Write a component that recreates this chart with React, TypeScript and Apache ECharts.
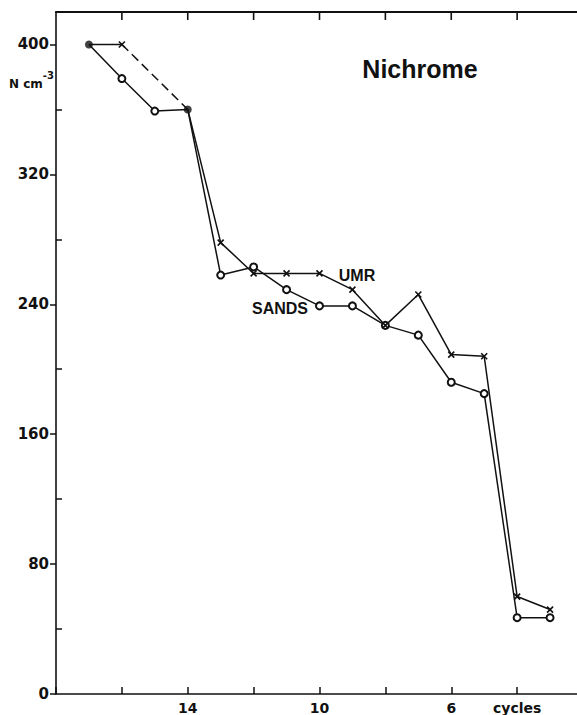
import React, { useEffect, useRef } from "react";
import * as echarts from "echarts";

// Cycles (x, decreasing to the right) and N cm^-3 values (y)
const sandsCycles = [17, 16, 15, 14, 13, 12, 11, 10, 9, 8, 7, 6, 5, 4, 3];
const sandsValues = [400, 379, 359, 360, 258, 263, 249, 239, 239, 227, 221, 192, 185, 47, 47];
const umrCycles = [17, 16, 14, 13, 12, 11, 10, 9, 8, 7, 6, 5, 4, 3];
const umrValues = [400, 400, 360, 278, 259, 259, 259, 249, 227, 246, 209, 208, 60, 52];
// points shared by both series (drawn as filled dots)
const sharedCycles = [17, 14];

const yMin = 0;
const yMax = 420;
const yMajorTicks = [0, 80, 160, 240, 320, 400];
const yMinorTicks = [40, 120, 200, 280, 360];
const xMin = 2;
const xMax = 18;
const xTickStep = 2;
const topTicks = [16, 14, 12, 10, 8, 6, 4];
const xLabels = [14, 10, 6, 4];
const xAxisName = "cycles";

const INK = "#111";
const LABEL_FONT = "DejaVu Sans";

export default function App() {
  const ref = useRef<HTMLDivElement>(null);

  useEffect(() => {
    if (!ref.current) return;
    const chart = echarts.init(ref.current, undefined, { renderer: "svg" });

    const xSymbol = "path://M0 0L10 10M10 0L0 10";

    const sandsData = sandsCycles.map((c, i) => ({
      value: [c, sandsValues[i]],
      symbol: sharedCycles.includes(c) ? "none" : "emptyCircle",
    }));

    const umrData: any[] = [];
    const dashedData: any[] = [];
    umrCycles.forEach((c, i) => {
      if (i > 0 && umrCycles[i - 1] - c > 1) {
        umrData.push({ value: [umrCycles[i - 1] - 1, "-"], symbol: "none" });
        dashedData.push([umrCycles[i - 1], umrValues[i - 1]], [c, umrValues[i]]);
      }
      umrData.push({
        value: [c, umrValues[i]],
        symbol: sharedCycles.includes(c) ? "none" : xSymbol,
      });
    });

    const sharedData = sharedCycles.map((c) => [c, sandsValues[sandsCycles.indexOf(c)]]);

    const xBase = {
      type: "value" as const,
      inverse: true,
      min: xMin,
      max: xMax,
      interval: xTickStep,
      splitLine: { show: false },
    };
    const yBase = {
      type: "value" as const,
      min: yMin,
      max: yMax,
      position: "left" as const,
      offset: 0,
      splitLine: { show: false },
    };

    const texts: any[] = [
      {
        type: "text",
        id: "title",
        x: 420,
        y: 69,
        style: {
          text: "Nichrome",
          fontFamily: "Liberation Sans",
          fontWeight: "bold",
          fontSize: 25,
          fill: INK,
          textAlign: "center",
          textVerticalAlign: "middle",
        },
      },
      {
        type: "text",
        id: "umr",
        x: 357,
        y: 275,
        style: {
          text: "UMR",
          fontFamily: "Liberation Sans",
          fontWeight: "bold",
          fontSize: 16,
          fill: INK,
          textAlign: "center",
          textVerticalAlign: "middle",
        },
      },
      {
        type: "text",
        id: "sands",
        x: 280,
        y: 308,
        style: {
          text: "SANDS",
          fontFamily: "Liberation Sans",
          fontWeight: "bold",
          fontSize: 16,
          fill: INK,
          textAlign: "center",
          textVerticalAlign: "middle",
        },
      },
      {
        type: "text",
        id: "unit",
        x: 9,
        y: 80,
        style: {
          text: "{a|N cm}{b|-3}",
          fill: INK,
          textAlign: "left",
          textVerticalAlign: "middle",
          rich: {
            a: {
              fontFamily: LABEL_FONT,
              fontWeight: "bold",
              fontSize: 12,
              lineHeight: 20,
              verticalAlign: "bottom",
              fill: INK,
            },
            b: {
              fontFamily: LABEL_FONT,
              fontWeight: "bold",
              fontSize: 10,
              lineHeight: 20,
              verticalAlign: "top",
              fill: INK,
            },
          },
        },
      },
    ];

    chart.setOption({
      animation: false,
      backgroundColor: "#fff",
      grid: { left: 56, right: 2, top: 12, bottom: 18, containLabel: false },
      xAxis: [
        {
          ...xBase,
          position: "bottom",
          axisLine: { onZero: false, lineStyle: { color: INK, width: 1.6 } },
          axisTick: { inside: true, length: 7, lineStyle: { color: INK, width: 1.5 } },
          axisLabel: {
            formatter: (v: number) =>
              xLabels.includes(v) ? (v === 4 ? xAxisName : String(v)) : "",
            margin: 7,
            color: INK,
            fontSize: 14,
            fontWeight: "bold",
            fontFamily: LABEL_FONT,
          },
        },
        {
          ...xBase,
          position: "top",
          axisLine: { onZero: false, lineStyle: { color: INK, width: 2 } },
          axisTick: { show: false },
          axisLabel: { show: false },
        },
      ],
      yAxis: [
        {
          ...yBase,
          axisLine: { onZero: false, lineStyle: { color: INK, width: 1.6 } },
          axisTick: { inside: false, length: 6, customValues: yMajorTicks, lineStyle: { color: INK, width: 1.5 } },
          axisLabel: {
            customValues: yMajorTicks,
            margin: 7,
            color: INK,
            fontSize: 15,
            fontWeight: "bold",
            fontFamily: LABEL_FONT,
          },
        },
        {
          ...yBase,
          axisLine: { show: false, onZero: false },
          axisTick: { inside: true, length: 6, customValues: yMinorTicks, lineStyle: { color: INK, width: 1.5 } },
          axisLabel: { show: false },
        },
      ],
      series: [
        {
          name: "SANDS",
          type: "line",
          data: sandsData,
          symbolSize: 7,
          lineStyle: { color: INK, width: 1.5 },
          itemStyle: { color: INK, borderColor: INK, borderWidth: 1.5 },
          z: 3,
        },
        {
          name: "UMR",
          type: "line",
          data: umrData,
          symbolSize: 6,
          connectNulls: false,
          lineStyle: { color: INK, width: 1.5 },
          itemStyle: { color: INK, borderColor: INK, borderWidth: 1.6 },
          z: 3,
        },
        {
          name: "UMR dashed",
          type: "line",
          data: dashedData,
          symbol: "none",
          lineStyle: { color: INK, width: 1.5, type: [9, 5] },
          z: 2,
        },
        {
          name: "shared",
          type: "scatter",
          data: sharedData,
          symbol: "circle",
          symbolSize: 8,
          itemStyle: { color: INK },
          z: 5,
        },
      ],
      graphic: texts,
    });

    // inward ticks along the top frame, positioned through the chart's own scales
    const tickLines = topTicks.map((c, i) => {
      const p = chart.convertToPixel({ gridIndex: 0 }, [c, yMax]) as number[];
      return {
        type: "line",
        id: "topTick" + i,
        z: 10,
        shape: { x1: p[0], y1: p[1], x2: p[0], y2: p[1] + 8 },
        style: { stroke: INK, lineWidth: 1.6 },
      };
    });
    chart.setOption({ graphic: [...texts, ...tickLines] });

    return () => chart.dispose();
  }, []);

  return (
    <div
      style={{ position: "fixed", left: 0, top: 0, width: 577, height: 715, overflow: "hidden", background: "#fff" }}
    >
      <div ref={ref} style={{ width: 586, height: 715 }} />
    </div>
  );
}
